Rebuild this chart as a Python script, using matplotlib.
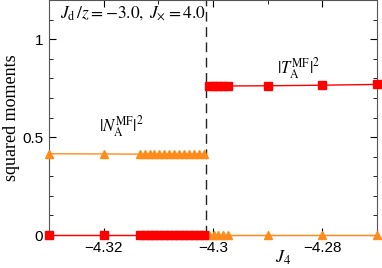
import matplotlib
matplotlib.use("Agg")
import matplotlib.pyplot as plt
from matplotlib.ticker import MultipleLocator

plt.rcParams['mathtext.fontset'] = 'stix'
plt.rcParams['font.family'] = ['Liberation Sans', 'DejaVu Sans']

# J4 grid and squared moments
j4_low = [-4.33, -4.32, -4.3134, -4.3125, -4.3116, -4.3107, -4.3098, -4.3089, -4.3080,
          -4.3071, -4.3062, -4.3053, -4.3044, -4.3035, -4.3026, -4.3017]
j4_high = [-4.3008, -4.2999, -4.2990, -4.2981, -4.2972, -4.29, -4.28, -4.27]

n_low = [0.415, 0.414] + [0.413] * 14
t_low = [0.0] * 16
n_high = [0.0] * 8
t_high = [0.760, 0.760, 0.760, 0.761, 0.761, 0.762, 0.765, 0.769]

j4_transition = -4.3013

red = '#ff0000'
orange = '#ff8c1a'

fig = plt.figure(figsize=(3.82, 2.68), dpi=100)
ax = fig.add_axes([0.128, 0.123, 0.859, 0.877])

# the two phases are drawn as separate pieces, no line across the jump
for xs, ys in [(j4_low, n_low), (j4_high, n_high)]:
    ax.plot(xs, ys, '-^', color=orange, lw=1.0, ms=6, clip_on=False, zorder=3)
for xs, ys in [(j4_low, t_low), (j4_high, t_high)]:
    ax.plot(xs, ys, '-s', color=red, lw=1.0, ms=6, clip_on=False, zorder=4)
ax.axvline(j4_transition, color='#222222', ls=(0, (7, 4)), lw=1.0)

ax.set_xlim(-4.33, -4.27)
ax.set_ylim(0, 1.2)
ax.xaxis.set_major_locator(MultipleLocator(0.02))
ax.xaxis.set_minor_locator(MultipleLocator(0.01))
ax.yaxis.set_major_locator(MultipleLocator(0.5))
ax.yaxis.set_minor_locator(MultipleLocator(0.1))
ax.set_xticks([-4.32, -4.3, -4.28])
ax.set_xticklabels(['\u22124.32', '\u22124.3', '\u22124.28'])
ax.set_yticks([0, 0.5, 1])
ax.set_yticklabels(['0', '0.5', '1'])
ax.tick_params(which='both', direction='in', top=True, right=True, labelsize=11, pad=4)
ax.tick_params(which='major', length=5)
ax.tick_params(which='minor', length=3)
for s in ax.spines.values():
    s.set_color('#555555')

ax.text(-0.115, 0.5, 'squared moments', transform=ax.transAxes, family='Liberation Serif',
        fontsize=13, rotation=90, ha='center', va='center')
ax.text(0.713, -0.058, r'$J_4$', transform=ax.transAxes, fontsize=13, ha='center', va='top')

ax.text(0.035, 0.94, r'$J_{\rm d}\,/z=-3.0,\;J_{\times}=4.0$', transform=ax.transAxes,
        fontsize=12.5, ha='left', va='center')
ax.text(0.22, 0.46, r'$|N_{\rm A}^{\rm MF}|^2$', transform=ax.transAxes,
        fontsize=12, ha='center', va='center')
ax.text(0.76, 0.71, r'$|T_{\rm A}^{\rm MF}|^2$', transform=ax.transAxes,
        fontsize=12, ha='center', va='center')

fig.savefig('out.png', dpi=100)
